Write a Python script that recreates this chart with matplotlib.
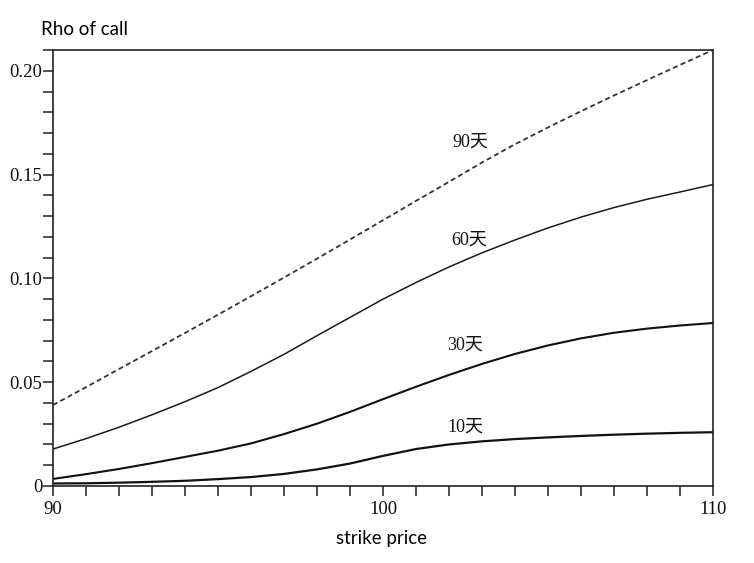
import matplotlib
matplotlib.use('Agg')
import matplotlib.pyplot as plt
from matplotlib.ticker import MultipleLocator

# strike prices (x axis) and rho values
strike = [90, 91, 92, 93, 94, 95, 96, 97, 98, 99, 100,
          101, 102, 103, 104, 105, 106, 107, 108, 109, 110]
rho_10 = [0.0012, 0.0013, 0.0016, 0.0020, 0.0025, 0.0033, 0.0043, 0.0058,
          0.0080, 0.0108, 0.0145, 0.0178, 0.0200, 0.0215, 0.0226, 0.0234,
          0.0241, 0.0247, 0.0252, 0.0256, 0.0259]
rho_30 = [0.0034, 0.0057, 0.0082, 0.0110, 0.0140, 0.0170, 0.0205, 0.0250,
          0.0300, 0.0357, 0.0418, 0.0478, 0.0535, 0.0588, 0.0636, 0.0677,
          0.0711, 0.0738, 0.0758, 0.0773, 0.0785]
rho_60 = [0.0178, 0.0228, 0.0283, 0.0343, 0.0406, 0.0474, 0.0552, 0.0634,
          0.0724, 0.0812, 0.0900, 0.0980, 0.1055, 0.1123, 0.1185, 0.1243,
          0.1295, 0.1341, 0.1381, 0.1416, 0.1452]
rho_90 = [0.0390, 0.0476, 0.0563, 0.0650, 0.0737, 0.0825, 0.0914, 0.1004,
          0.1095, 0.1187, 0.1280, 0.1373, 0.1465, 0.1558, 0.1646, 0.1727,
          0.1805, 0.1881, 0.1955, 0.2028, 0.2100]

curve_labels = ['10天', '30天', '60天', '90天']
label_x = [102.5, 102.5, 102.6, 102.65]
label_y = [0.0284, 0.0679, 0.1185, 0.1657]

yticks = [0, 0.05, 0.10, 0.15, 0.20]
ytick_labels = ['0', '0.05', '0.10', '0.15', '0.20']
xticks = [90, 100, 110]

serif = ['Liberation Serif', 'Noto Sans CJK SC']

fig = plt.figure(figsize=(7.54, 5.63), dpi=100)
ax = fig.add_axes([0.0703, 0.1368, 0.8753, 0.7744])

ax.plot(strike, rho_10, color='#111111', lw=1.6)
ax.plot(strike, rho_30, color='#111111', lw=1.5)
ax.plot(strike, rho_60, color='#1a1a1a', lw=1.1)
line90, = ax.plot(strike, rho_90, color='#333333', lw=1.3)
line90.set_dashes([2.8, 1.8])

# curve labels
for txt, lx, ly in zip(curve_labels, label_x, label_y):
    ax.text(lx, ly, txt, family=serif, fontsize=13, color='#111111',
            ha='center', va='center')

ax.set_xlim(90, 110)
ax.set_ylim(0, 0.21)
ax.set_xticks(xticks)
ax.set_xticklabels([str(x) for x in xticks])
ax.set_yticks(yticks)
ax.set_yticklabels(ytick_labels)
ax.xaxis.set_minor_locator(MultipleLocator(1))
ax.yaxis.set_minor_locator(MultipleLocator(0.01))

ax.tick_params(axis='both', which='both', direction='out', length=7,
               width=1.1, color='#222222')
ax.tick_params(axis='x', which='major', pad=4)
ax.tick_params(axis='y', which='major', pad=0.5)
for lab in ax.get_xticklabels() + ax.get_yticklabels():
    lab.set_family(serif)
    lab.set_fontsize(13.5)
    lab.set_color('#111111')

for side in ['left', 'bottom', 'top', 'right']:
    ax.spines[side].set_color('#222222')
    ax.spines[side].set_linewidth(1.2)

# axis titles in sans font, placed like the original
fig.text(0.054, 0.947, 'Rho of call', family='Lato', fontsize=13.5,
         ha='left', va='center', color='black')
fig.text(0.506, 0.044, 'strike price', family='Lato', fontsize=13.5,
         ha='center', va='center', color='black')

fig.savefig('out.png', dpi=100)
